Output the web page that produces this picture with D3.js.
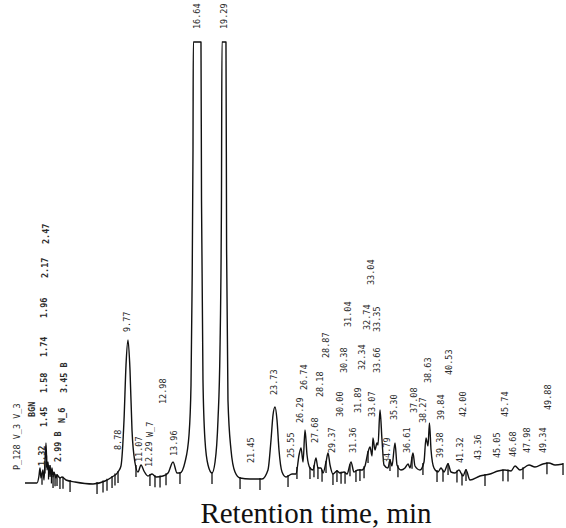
<!DOCTYPE html>
<html>
<head>
<meta charset="utf-8">
<script src="https://cdn.jsdelivr.net/npm/d3@7"></script>
<style>
  body { margin: 0; background: #fff; }
</style>
</head>
<body>
<script>
// trace: time (min) and detector signal (arbitrary units)
var traceTime = [0.00, 1.14, 1.33, 1.43, 1.52, 1.71, 1.81, 2.00, 2.10, 2.19, 2.29, 2.38, 2.48, 2.57, 2.67, 2.76,
  2.95, 3.05, 3.33, 3.52, 3.90, 4.76, 6.48, 7.62, 8.29, 8.86, 9.14, 9.43, 9.62, 9.81, 10.00, 10.19, 10.48, 10.76,
  11.05, 11.33, 11.71, 12.10, 12.48, 13.14, 13.62, 14.10, 14.48, 14.76, 15.24, 15.62, 15.81, 15.90, 16.00, 16.03,
  16.76, 16.81, 16.95, 17.14, 17.43, 17.81, 18.10, 18.38, 18.57, 18.71, 18.76, 19.14, 19.20, 19.33, 19.62, 20.00,
  20.48, 21.43, 22.57, 23.14, 23.43, 23.62, 23.81, 24.00, 24.19, 24.48, 24.86, 25.43, 25.81, 26.10, 26.29, 26.48,
  26.67, 26.86, 27.14, 27.43, 27.71, 27.90, 28.19, 28.38, 28.67, 28.86, 29.05, 29.33, 29.71, 30.00, 30.38, 30.67,
  31.05, 31.33, 31.71, 32.10, 32.38, 32.67, 32.86, 33.05, 33.14, 33.33, 33.52, 33.62, 33.81, 34.00, 34.19, 34.57,
  34.76, 34.95, 35.24, 35.43, 35.81, 36.19, 36.48, 36.67, 36.95, 37.14, 37.62, 38.00, 38.19, 38.38, 38.52, 38.67,
  38.95, 39.33, 39.62, 39.90, 40.29, 40.57, 40.95, 41.33, 41.71, 42.00, 42.38, 43.33, 44.29, 45.05, 45.71, 46.29,
  46.67, 47.14, 48.00, 48.57, 49.33, 49.90, 50.48, 51.24];
var traceSignal = [2, 2, 9, 17, 7, 15, 5, 42, 15, 23, 10, 19, 9, 17, 8, 13,
  7, 10, 7, 8, 5, 3, 1, 4, 8, 13, 19, 65, 120, 145, 115, 55, 22, 13,
  20, 14, 9, 11, 8, 9, 12, 23, 12, 12, 23, 50, 100, 185, 335, 443,
  443, 285, 105, 45, 20, 12, 23, 65, 135, 285, 443, 443, 235, 85, 35, 13,
  7, 6, 6, 15, 45, 70, 78, 65, 35, 13, 8, 11, 11, 30, 37, 23,
  55, 30, 17, 15, 27, 17, 17, 12, 23, 32, 20, 11, 14, 12, 13, 11,
  23, 13, 15, 15, 19, 33, 38, 29, 47, 35, 42, 40, 75, 45, 20, 17,
  25, 19, 42, 20, 15, 17, 21, 17, 32, 19, 15, 23, 47, 39, 62, 35,
  17, 13, 17, 13, 21, 13, 12, 15, 9, 15, 5, 9, 11, 14, 15, 14,
  19, 15, 20, 18, 21, 22, 20, 21];

// integration marks (min)
var markTime = [1.62, 1.90, 2.05, 2.24, 2.38, 2.52, 2.67, 2.86, 3.05, 3.33, 3.62, 4.29, 6.86, 7.43, 7.81, 8.29,
  8.57, 8.86, 10.57, 11.90, 12.38, 12.86, 13.43, 14.76, 17.81, 20.48, 22.38, 25.05, 25.90, 27.14, 27.52, 27.90,
  28.29, 28.67, 29.33, 29.71, 30.10, 30.48, 30.95, 31.52, 31.90, 32.29, 32.67, 34.76, 35.52, 36.86, 37.90, 39.24,
  39.81, 40.29, 41.14, 41.62, 42.00, 43.81, 45.52, 46.00, 47.43, 49.71, 51.24];

// printed peak labels: text, time where printed, level of the label foot
var labelText = ["P_128 V_3 V_3", "BGN", "1.32", "1.45", "1.58", "1.74", "1.96", "2.17", "2.47", "2.99 B", "N_6", "3.45 B",
  "8.78", "9.77", "11.07", "12.29", "W_7", "12.98", "13.96", "16.64", "19.29", "21.45", "23.73", "25.55", "26.29",
  "26.74", "27.68", "28.18", "28.87", "29.37", "30.00", "30.38", "31.04", "31.36", "31.89", "32.34", "32.74", "33.04",
  "33.35", "33.66", "33.07", "34.79", "35.30", "36.61", "37.08", "38.27", "38.63", "39.38", "39.84", "40.53", "41.32",
  "42.00", "43.36", "45.05", "45.74", "46.68", "47.98", "49.34", "49.88"];
var labelTime = [-0.76, 0.67, 1.62, 1.81, 1.81, 1.81, 1.81, 1.90, 2.00, 3.14, 3.52, 3.71,
  8.86, 9.71, 10.86, 11.81, 11.90, 13.14, 14.19, 16.38, 18.95, 21.52, 23.71, 25.33, 26.19,
  26.57, 27.62, 28.10, 28.67, 29.24, 30.00, 30.38, 30.76, 31.24, 31.71, 32.10, 32.57, 32.95,
  33.52, 33.52, 33.05, 34.48, 35.14, 36.38, 37.05, 37.90, 38.38, 39.52, 39.62, 40.38, 41.43,
  41.71, 43.14, 44.95, 45.71, 46.48, 47.81, 49.33, 49.81];
var labelLevel = [15, 68, 19, 58, 92, 128, 167, 207, 241, 23, 62, 92,
  35, 153, 23, 18, 48, 81, 29, 456, 456, 22, 90, 27, 62,
  95, 42, 88, 127, 32, 68, 112, 158, 32, 72, 115, 155, 200,
  153, 112, 68, 22, 65, 32, 72, 62, 102, 27, 65, 110, 22,
  68, 25, 27, 68, 28, 32, 32, 75];

var xTitle = "Retention time, min";

var width = 566, height = 528;
var svg = d3.select("body").append("svg")
  .attr("width", width)
  .attr("height", height);

var x = d3.scaleLinear().domain([0, 51.5]).range([25, 25 + 51.5 * 10.5]);
var y = d3.scaleLinear().domain([0, 443]).range([485, 42]);

var points = traceTime.map(function(t, i) { return [t, traceSignal[i]]; });

var line = d3.line()
  .x(function(d) { return x(d[0]); })
  .y(function(d) { return y(d[1]); })
  .curve(d3.curveMonotoneX);

svg.append("path")
  .datum(points)
  .attr("d", line)
  .attr("fill", "none")
  .attr("stroke", "#111")
  .attr("stroke-width", 1.4)
  .attr("stroke-linejoin", "round");

// signal at a time, straight between read points (for placing the marks)
var bis = d3.bisector(function(d) { return d[0]; }).left;
function signalAt(t) {
  var i = bis(points, t);
  if (i <= 0) return points[0][1];
  if (i >= points.length) return points[points.length - 1][1];
  var a = points[i - 1], b = points[i];
  return a[1] + (b[1] - a[1]) * (t - a[0]) / (b[0] - a[0]);
}

svg.selectAll("line.mark")
  .data(markTime)
  .enter().append("line")
  .attr("class", "mark")
  .attr("x1", function(d) { return x(d); })
  .attr("x2", function(d) { return x(d); })
  .attr("y1", function(d) { return y(signalAt(d)) - 1; })
  .attr("y2", function(d) { return y(signalAt(d)) + 11; })
  .attr("stroke", "#111")
  .attr("stroke-width", 1.3);

// solvent-front labels were printed heavier
svg.selectAll("text.peak")
  .data(labelText)
  .enter().append("text")
  .attr("class", "peak")
  .attr("transform", function(d, i) {
    return "translate(" + x(labelTime[i]) + "," + y(labelLevel[i]) + ") rotate(-90)";
  })
  .attr("dy", "0.35em")
  .attr("font-family", "DejaVu Sans Mono, monospace")
  .attr("font-size", 8.5)
  .attr("font-weight", function(d, i) { return labelTime[i] > 0 && labelTime[i] < 4 ? "bold" : "normal"; })
  .attr("fill", "#2a2a2a")
  .text(function(d) { return d; });

svg.append("text")
  .attr("x", 316)
  .attr("y", 523)
  .attr("text-anchor", "middle")
  .attr("font-family", "Liberation Serif, Times New Roman, serif")
  .attr("font-size", 29)
  .attr("fill", "#111")
  .text(xTitle);
</script>
</body>
</html>
